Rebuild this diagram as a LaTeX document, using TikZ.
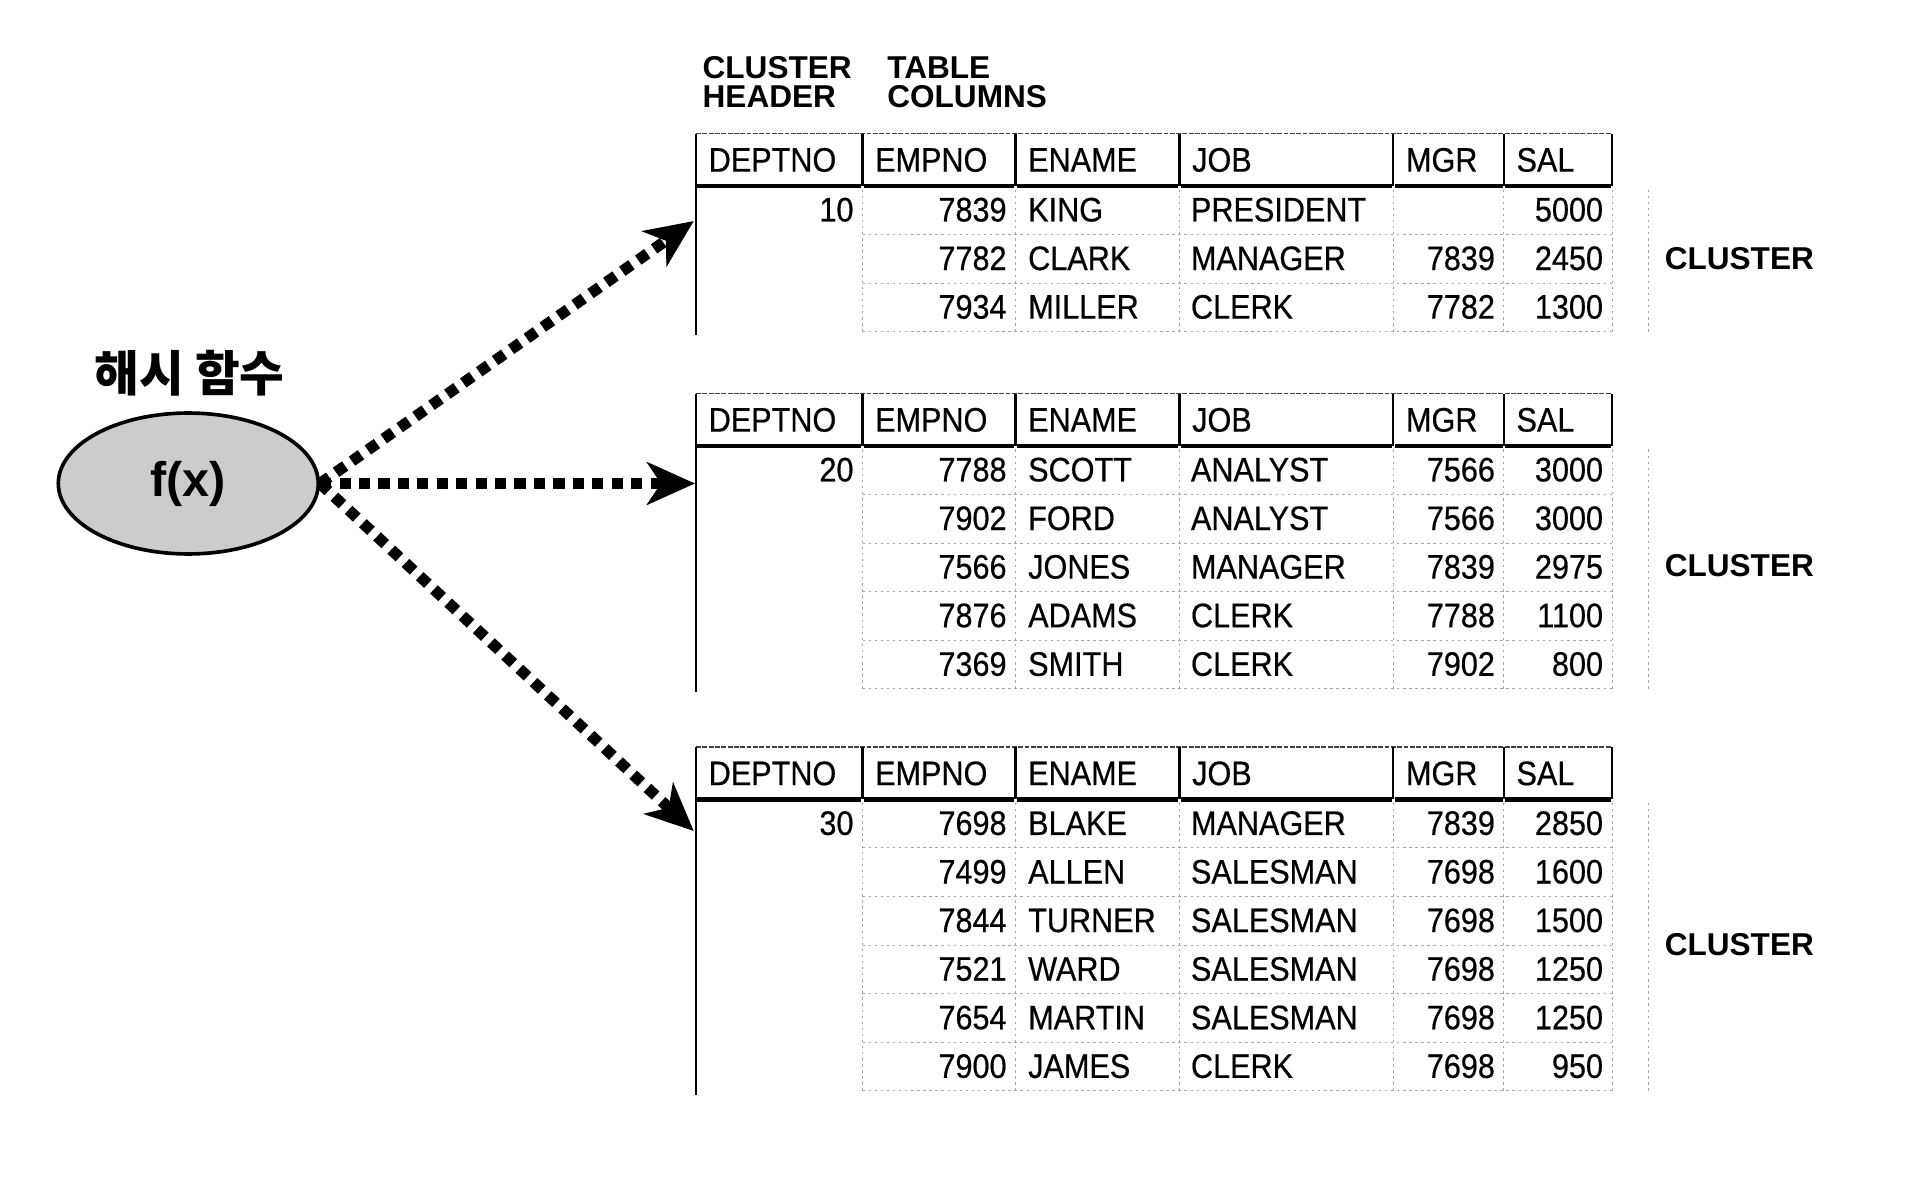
\documentclass[tikz,border=0pt]{standalone}
\usepackage{fontspec}
\setmainfont{Liberation Sans}
\newfontfamily\tabfont[FakeStretch=0.9,FakeBold=0.5]{Liberation Sans}
\newfontfamily\hanfont{Noto Sans CJK KR}
\usetikzlibrary{arrows.meta,shapes.geometric}

% column borders
\def\xa{573}\def\xb{710}\def\xc{836}\def\xd{971}\def\xe{1147}\def\xf{1238}\def\xg{1327}

% #1 name, #2 top of header, #3 deptno, #4 number of rows, #5 rows
\def\tbl#1#2#3#4#5{%
  \draw[toprule] (\xa,#2) -- (\xg,#2);
  \foreach \x in {\xb,\xc,\xd,\xe,\xf,\xg} \draw[colrule] (\x,#2) -- (\x,#2+43);
  \foreach \l/\r in {\xa/\xb,\xb/\xc,\xc/\xd,\xd/\xe,\xe/\xf,\xf/\xg}
    \draw[headrule] (\l+1,#2+43) -- (\r-1,#2+43);
  \foreach \h/\x [count=\k] in {DEPTNO/\xa,EMPNO/\xb,ENAME/\xc,JOB/\xd,MGR/\xe,SAL/\xf}
    \node[cell, anchor=mid west] (#1h\k) at (\x+10,#2+26) {\h};
  \foreach \i in {1,...,#4} \draw[gridrule] (\xb,#2+43+40*\i) -- (\xg,#2+43+40*\i);
  \foreach \x in {\xb,\xc,\xd,\xe,\xf,\xg,1357} \draw[gridrule] (\x,#2+46) -- (\x,#2+43+40*#4);
  \draw[siderule] (\xa,#2) -- (\xa,#2+46+40*#4);
  \node[cell, anchor=mid east] (#1d) at (\xb-7,#2+67) {#3};
  \foreach \e/\n/\j/\m/\s [count=\i] in {#5} {
    \node[cell, anchor=mid east] (#1e\i) at (\xc-7,#2+27+40*\i) {\e};
    \node[cell, anchor=mid west] (#1n\i) at (\xc+10,#2+27+40*\i) {\n};
    \node[cell, anchor=mid west] (#1j\i) at (\xd+9,#2+27+40*\i) {\j};
    \node[cell, anchor=mid east] (#1m\i) at (\xf-7,#2+27+40*\i) {\m};
    \node[cell, anchor=mid east] (#1s\i) at (\xg-7,#2+27+40*\i) {\s};
  }
}

\begin{document}
\begin{tikzpicture}[
x=0.5pt, y=-0.5pt,
cell/.style={font=\tabfont\fontsize{14}{16}\selectfont, inner sep=0pt},
lbl/.style={font=\bfseries\fontsize{13}{12}\selectfont, inner sep=0pt},
toprule/.style={line width=0.6pt, black!75, dash pattern=on 2pt off 0.6pt},
colrule/.style={line width=0.9pt},
headrule/.style={line width=1.8pt},
gridrule/.style={line width=0.4pt, black!35, dash pattern=on 1pt off 1.5pt},
siderule/.style={line width=0.9pt},
hashfn/.style={ellipse, draw, line width=1.5pt, fill=black!20, minimum width=107pt, minimum height=58pt, inner sep=0pt, font=\bfseries\fontsize{20}{24}\selectfont},
flow/.style={line width=4.6pt, dash pattern=on 4.6pt off 3.4pt, -{Stealth[length=20pt,width=18pt,inset=6pt,line width=0.5pt]}},
]
\useasboundingbox (0,0) rectangle (1569,971);

\node[lbl, align=left, anchor=north west] (chdr) at (578,46) {CLUSTER\\HEADER};
\node[lbl, align=left, anchor=north west] (tcol) at (730,46) {TABLE\\COLUMNS};

% hash function:
\node[font=\hanfont\bfseries\fontsize{20}{24}\selectfont, inner sep=0pt] (hlbl) at (156,307) {해시 함수};
\node[hashfn] (fx) at (155,398) {f(x)};

% clusters:
\tbl{ta}{110}{10}{3}{7839/KING/PRESIDENT//5000, 7782/CLARK/MANAGER/7839/2450, 7934/MILLER/CLERK/7782/1300}
\tbl{tb}{324}{20}{5}{7788/SCOTT/ANALYST/7566/3000, 7902/FORD/ANALYST/7566/3000, 7566/JONES/MANAGER/7839/2975, 7876/ADAMS/CLERK/7788/1100, 7369/SMITH/CLERK/7902/800}
\tbl{tc}{615}{30}{6}{7698/BLAKE/MANAGER/7839/2850, 7499/ALLEN/SALESMAN/7698/1600, 7844/TURNER/SALESMAN/7698/1500, 7521/WARD/SALESMAN/7698/1250, 7654/MARTIN/SALESMAN/7698/1250, 7900/JAMES/CLERK/7698/950}

\node[lbl, anchor=west] (ca) at (1370,213) {CLUSTER};
\node[lbl, anchor=west] (cb) at (1370,466) {CLUSTER};
\node[lbl, anchor=west] (cc) at (1370,778) {CLUSTER};

% arrows:
\coordinate (ina) at (571,182);
\coordinate (inb) at (572,398);
\coordinate (inc) at (571,684);
\draw[flow] (fx.east) -- (ina);
\draw[flow] (fx.east) -- (inb);
\draw[flow] (fx.east) -- (inc);
\end{tikzpicture}
\end{document}
